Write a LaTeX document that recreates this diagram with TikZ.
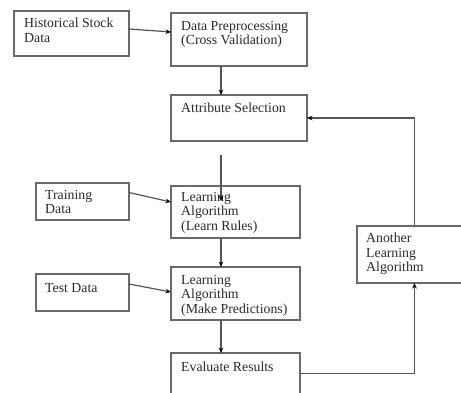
\documentclass[tikz,border=0pt]{standalone}
\usepackage{fontspec}
\setmainfont{Liberation Serif}
\usetikzlibrary{arrows.meta}
\definecolor{edgegray}{HTML}{6A6A6A}
\definecolor{linegray}{HTML}{555555}
\definecolor{inkgray}{HTML}{2A2A2A}
\begin{document}
\begin{tikzpicture}[x=1pt,y=-1pt,
  box/.style={draw=edgegray, line width=1.4pt, rectangle, inner sep=0pt, outer sep=0pt, fill=white},
  txt/.style={anchor=north west, inner sep=0pt, align=left, text=inkgray,
              font=\fontsize{13.8}{14.5}\selectfont},
  arr/.style={draw=linegray, line width=1.2pt, -{Stealth[length=5.5pt,width=4.5pt,black]}},
  plain/.style={draw=linegray, line width=1.2pt}]
\clip (0,0) rectangle (461,392);
\fill[white] (0,0) rectangle (461,392);

% boxes
\node[box, minimum width=115pt, minimum height=45pt] (hist) at (71.5,33.5) {};
\node[box, minimum width=136pt, minimum height=53pt] (prep) at (239,39.5) {};
\node[box, minimum width=136pt, minimum height=46pt] (attr) at (239,118) {};
\node[box, minimum width=93pt,  minimum height=37pt] (train) at (82.5,201.5) {};
\node[box, minimum width=129pt, minimum height=52pt] (learn) at (235.5,212) {};
\node[box, minimum width=93pt,  minimum height=37pt] (test) at (82.5,292.5) {};
\node[box, minimum width=129pt, minimum height=53pt] (pred) at (235.5,293.5) {};
\node[box, minimum width=129pt, minimum height=41pt] (eval) at (235.5,373.5) {};
\node[box, minimum width=115pt, minimum height=57pt] (another) at (414.5,254.5) {};

% box texts
\node[txt] (histT) at (24,18) {Historical Stock\\Data};
\node[txt] (prepT) at (181,21) {Data Preprocessing\\(Cross Validation)};
\node[txt] (attrT) at (181,103) {Attribute Selection};
\node[txt] (trainT) at (45,190) {Training\\Data};
\node[txt] (learnT) at (181,192) {Learning\\Algorithm\\(Learn Rules)};
\node[txt] (testT) at (45,283) {Test Data};
\node[txt] (predT) at (181,275) {Learning\\Algorithm\\(Make Predictions)};
\node[txt] (evalT) at (181,362) {Evaluate Results};
\node[txt] (anotherT) at (366,233) {Another\\Learning\\Algorithm};

% connectors
\coordinate (gapTop) at (221,155);
\coordinate (gapEnd) at (221,201);

\draw[arr] ([yshift=4.5pt]hist.east) -- ([yshift=7.5pt]prep.west);
\draw[arr] ([xshift=-18pt]prep.south) -- ([xshift=-18pt]attr.north);
\draw[arr] (gapTop) -- (gapEnd);
\draw[arr] ([yshift=9pt]train.east) -- ([yshift=10pt]learn.west);
\draw[arr] ([xshift=-14.5pt]learn.south) -- ([xshift=-14.5pt]pred.north);
\draw[arr] ([yshift=8.5pt]test.east) -- ([yshift=1.5pt]pred.west);
\draw[arr] ([xshift=-14.5pt]pred.south) -- ([xshift=-14.5pt]eval.north);
\draw[arr] (eval.east) -| (another.south);
\draw[arr] (another.north) |- (attr.east);
\end{tikzpicture}
\end{document}
